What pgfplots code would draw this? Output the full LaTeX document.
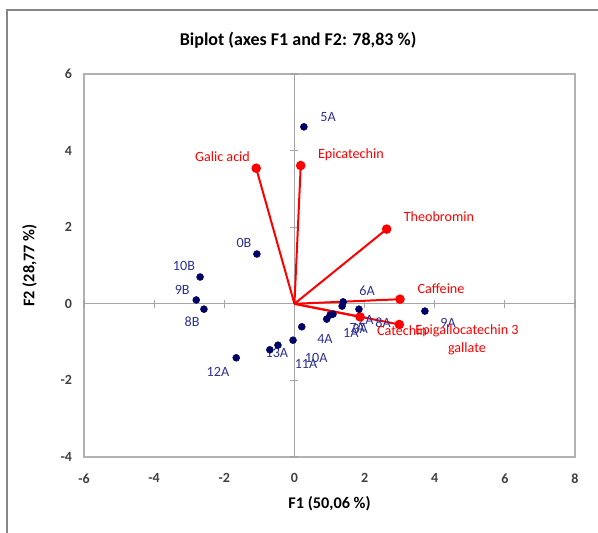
\documentclass[border=0pt]{standalone}
\usepackage{pgfplots}
\pgfplotsset{compat=1.18}
\usepackage{fontspec}
\setmainfont{Carlito}
\definecolor{navy}{RGB}{0,0,102}
\definecolor{lblblue}{RGB}{46,49,146}
\definecolor{ticktxt}{RGB}{64,64,64}
\begin{document}
\begin{tikzpicture}
\useasboundingbox (-63pt,-56.25pt) rectangle (385.5pt,342.75pt);
\draw[color=gray!95, line width=1.5pt] (-58.1pt,-80pt) rectangle (400pt,335.3pt);
\begin{axis}[
  at={(0,0)}, anchor=south west,
  scale only axis, width=368.25pt, height=287.25pt,
  xmin=-6, xmax=8, ymin=-4, ymax=6,
  xtick={-6,-4,...,8}, ytick={-4,-2,...,6},
  major tick length=0pt,
  axis line style={draw=gray!60, line width=0.8pt},
  /pgf/number format/assume math mode=true,
  tick label style={font=\bfseries\fontsize{10.5}{12}\selectfont, text=ticktxt},
  xticklabel style={yshift=-9pt},
  yticklabel style={xshift=-5.5pt},
  title={\bfseries Biplot (axes F1 and F2: 78,83 \%)},
  title style={font=\fontsize{13.5}{16}\selectfont, at={(0.436,1)}, yshift=10pt},
  xlabel={\bfseries F1 (50,06 \%)},
  ylabel={\bfseries F2 (28,77 \%)},
  label style={font=\fontsize{12.2}{14}\selectfont},
  xlabel style={yshift=-3pt},
  ylabel style={yshift=11pt},
  clip=false,
]
% zero lines with crossing ticks
\draw[gray!70, line width=0.9pt] (axis cs:0,-4) -- (axis cs:0,6);
\draw[gray!70, line width=0.9pt] (axis cs:-6,0) -- (axis cs:8,0);
\pgfplotsinvokeforeach{-4,-2,2,4,6}{\draw[gray!70, line width=0.9pt] ([xshift=-3pt]axis cs:0,#1) -- ([xshift=3pt]axis cs:0,#1);}
\pgfplotsinvokeforeach{-6,-4,-2,2,4,6,8}{\draw[gray!70, line width=0.9pt] ([yshift=-3pt]axis cs:#1,0) -- ([yshift=3pt]axis cs:#1,0);}

% variable vectors
\addplot[red, line width=1.5pt, mark=*, mark size=2.8pt, mark indices={2}] coordinates {(0,0) (-1.09,3.54)};
\addplot[red, line width=1.5pt, mark=*, mark size=2.8pt, mark indices={2}] coordinates {(0,0) (0.18,3.61)};
\addplot[red, line width=1.5pt, mark=*, mark size=2.8pt, mark indices={2}] coordinates {(0,0) (2.63,1.95)};
\addplot[red, line width=1.5pt, mark=*, mark size=2.8pt, mark indices={2}] coordinates {(0,0) (3.01,0.12)};
\addplot[red, line width=1.5pt, mark=*, mark size=2.8pt, mark indices={2}] coordinates {(0,0) (2.99,-0.54)};
\addplot[red, line width=1.5pt, mark=*, mark size=2.8pt, mark indices={2}] coordinates {(0,0) (1.87,-0.34)};

% observations
\addplot[only marks, mark=*, mark size=2.6pt, color=navy] coordinates {
(0.27,4.62) (-1.07,1.30) (-2.69,0.70) (-2.80,0.10) (-2.58,-0.14)
(-1.66,-1.41) (-0.70,-1.20) (-0.47,-1.08) (-0.04,-0.95) (0.21,-0.60)
(1.39,0.05) (1.36,-0.06) (1.84,-0.14) (3.72,-0.19)
(1.10,-0.27) (1.02,-0.29) (0.92,-0.40)
};

% observation labels
\begin{scope}[every node/.style={font=\fontsize{10.6}{12}\selectfont, text=lblblue}]
\node at (axis cs:0.96,4.88) {5A};
\node at (axis cs:-1.44,1.59) {0B};
\node at (axis cs:-3.15,0.99) {10B};
\node at (axis cs:-3.20,0.36) {9B};
\node at (axis cs:-2.92,-0.47) {8B};
\node at (axis cs:-2.18,-1.78) {12A};
\node at (axis cs:-0.50,-1.28) {13A};
\node at (axis cs:0.33,-1.57) {11A};
\node at (axis cs:0.62,-1.42) {10A};
\node at (axis cs:0.87,-0.93) {4A};
\node at (axis cs:1.61,-0.77) {1A};
\node at (axis cs:1.79,-0.63) {7A};
\node at (axis cs:1.87,-0.65) {3A};
\node at (axis cs:2.04,-0.43) {2A};
\node at (axis cs:2.53,-0.50) {8A};
\node at (axis cs:2.07,0.34) {6A};
\node at (axis cs:4.38,-0.50) {9A};
\end{scope}

% variable labels
\begin{scope}[every node/.style={font=\fontsize{10.6}{12}\selectfont, text=red}]
\node at (axis cs:-2.05,3.83) {Galic acid};
\node at (axis cs:1.61,3.88) {Epicatechin};
\node at (axis cs:4.12,2.27) {Theobromin};
\node at (axis cs:4.18,0.39) {Caffeine};
\node at (axis cs:3.07,-0.70) {Catechin};
\node[align=center, font=\fontsize{10.6}{13.5}\selectfont] at (axis cs:4.92,-0.95) {Epigallocatechin 3\\gallate};
\end{scope}
\end{axis}
\end{tikzpicture}
\end{document}
